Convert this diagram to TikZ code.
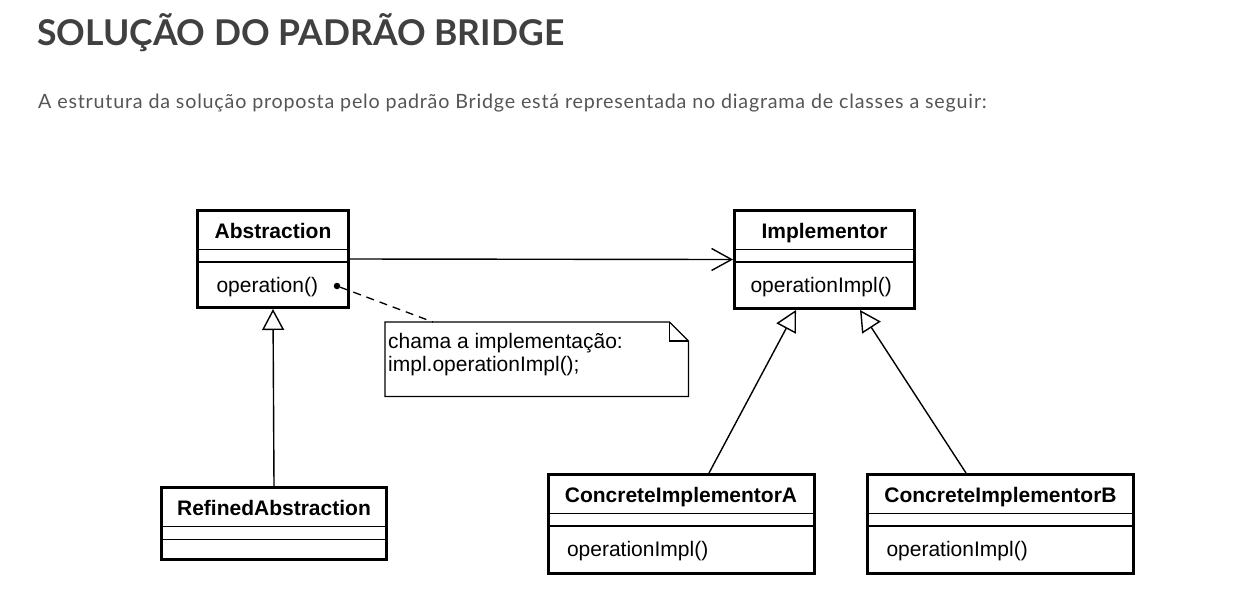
\documentclass[tikz,border=0pt]{standalone}
\usepackage{fontspec}
\usepackage{xcolor}
\usepackage{tikz}
\usetikzlibrary{arrows.meta,positioning}

\newfontfamily\umlfont{Liberation Sans}
\newfontfamily\latofont{Lato}
\newfontfamily\introfont[LetterSpace=4]{Lato}
\definecolor{titlegray}{HTML}{404040}
\definecolor{textgray}{HTML}{555555}

\begin{document}
\begin{tikzpicture}[
    x=1pt, y=-1pt,
    classbox/.style={draw, line width=3pt, inner sep=0pt},
    cname/.style={font=\umlfont\bfseries\fontsize{21}{24}\selectfont, anchor=base},
    cop/.style={font=\umlfont\fontsize{21}{24}\selectfont, anchor=base west},
    compline/.style={line width=1.3pt},
    assoc/.style={line width=1.4pt, -{Straight Barb[length=20pt,width=22pt,line width=1.4pt]}},
    inherit/.style={line width=1.4pt, -{Triangle[open,length=21pt,width=22pt,line width=1.4pt]}},
]
    \useasboundingbox (0,0) rectangle (1257,606);

    % Heading
    \node[anchor=base west, inner sep=0pt, text=titlegray, font=\latofont\bfseries\fontsize{35.5}{40}\selectfont] (title) at (37,45) {SOLUÇÃO DO PADRÃO BRIDGE};
    \node[anchor=base west, inner sep=0pt, text=textgray, font=\introfont\fontsize{19.7}{23}\selectfont] (intro) at (38,108) {A estrutura da solução proposta pelo padrão Bridge está representada no diagrama de classes a seguir:};

    % Classes
    \node[classbox, minimum width=151pt, minimum height=97pt] (abs) at (273,259) {};
    \node[classbox, minimum width=180pt, minimum height=98pt] (impl) at (824.5,259.5) {};
    \node[classbox, minimum width=225pt, minimum height=72pt] (ref) at (274,523.5) {};
    \node[classbox, minimum width=266pt, minimum height=99pt] (cia) at (681,524) {};
    \node[classbox, minimum width=266pt, minimum height=99pt] (cib) at (1000.5,524) {};

    % Compartments
    \draw[compline] ([yshift=-40.5pt]abs.north west) -- ([yshift=-40.5pt]abs.north east);
    \draw[compline] ([yshift=-53pt]abs.north west) -- ([yshift=-53pt]abs.north east);
    \draw[compline] ([yshift=-40.5pt]impl.north west) -- ([yshift=-40.5pt]impl.north east);
    \draw[compline] ([yshift=-53pt]impl.north west) -- ([yshift=-53pt]impl.north east);
    \draw[compline] ([yshift=-40.5pt]ref.north west) -- ([yshift=-40.5pt]ref.north east);
    \draw[compline] ([yshift=-53.5pt]ref.north west) -- ([yshift=-53.5pt]ref.north east);
    \draw[compline] ([yshift=-40.5pt]cia.north west) -- ([yshift=-40.5pt]cia.north east);
    \draw[compline] ([yshift=-53pt]cia.north west) -- ([yshift=-53pt]cia.north east);
    \draw[compline] ([yshift=-40.5pt]cib.north west) -- ([yshift=-40.5pt]cib.north east);
    \draw[compline] ([yshift=-53pt]cib.north west) -- ([yshift=-53pt]cib.north east);

    % Names and operations
    \node[cname] (abs-name) at ([yshift=-29.5pt]abs.north) {Abstraction};
    \node[cop] (abs-op) at ([xshift=17pt,yshift=-83.5pt]abs.north west) {operation()};
    \node[cname] (impl-name) at ([yshift=-29.5pt]impl.north) {Implementor};
    \node[cop] (impl-op) at ([xshift=14pt,yshift=-83.5pt]impl.north west) {operationImpl()};
    \node[cname] (ref-name) at ([yshift=-29.5pt]ref.north) {RefinedAbstraction};
    \node[cname] (cia-name) at ([yshift=-29.5pt]cia.north) {ConcreteImplementorA};
    \node[cop] (cia-op) at ([xshift=17pt,yshift=-83.5pt]cia.north west) {operationImpl()};
    \node[cname] (cib-name) at ([yshift=-29.5pt]cib.north) {ConcreteImplementorB};
    \node[cop] (cib-op) at ([xshift=17pt,yshift=-83.5pt]cib.north west) {operationImpl()};

    % Note
    \node[minimum width=303pt, minimum height=74pt, inner sep=0pt, anchor=north west] (note) at (385,322) {};
    \draw[line width=1.2pt] (note.north west) -- ([xshift=-19pt]note.north east) -- ([yshift=-19pt]note.north east)
        -- (note.south east) -- (note.south west) -- cycle;
    \draw[line width=1.2pt] ([xshift=-19pt]note.north east) |- ([yshift=-19pt]note.north east);
    \node[anchor=north west, align=left, inner sep=0pt, font=\umlfont\fontsize{21}{23}\selectfont] (note-text) at (388,333) {chama a implementação:\\impl.operationImpl();};
    \node[circle, fill, inner sep=0pt, minimum size=6.5pt] (dot) at (337,286) {};
    \draw[line width=1.3pt, dash pattern=on 8pt off 6pt] (dot) -- ([xshift=48pt]note.north west);

    % Relations
    \draw[assoc] (abs.east) -- (impl.west);
    \draw[inherit] (ref.north) -- (abs.south);
    \draw[inherit] ([xshift=28pt]cia.north) -- ([xshift=-28.5pt]impl.south);
    \draw[inherit] ([xshift=-34.5pt]cib.north) -- ([xshift=35.5pt]impl.south);
\end{tikzpicture}
\end{document}
